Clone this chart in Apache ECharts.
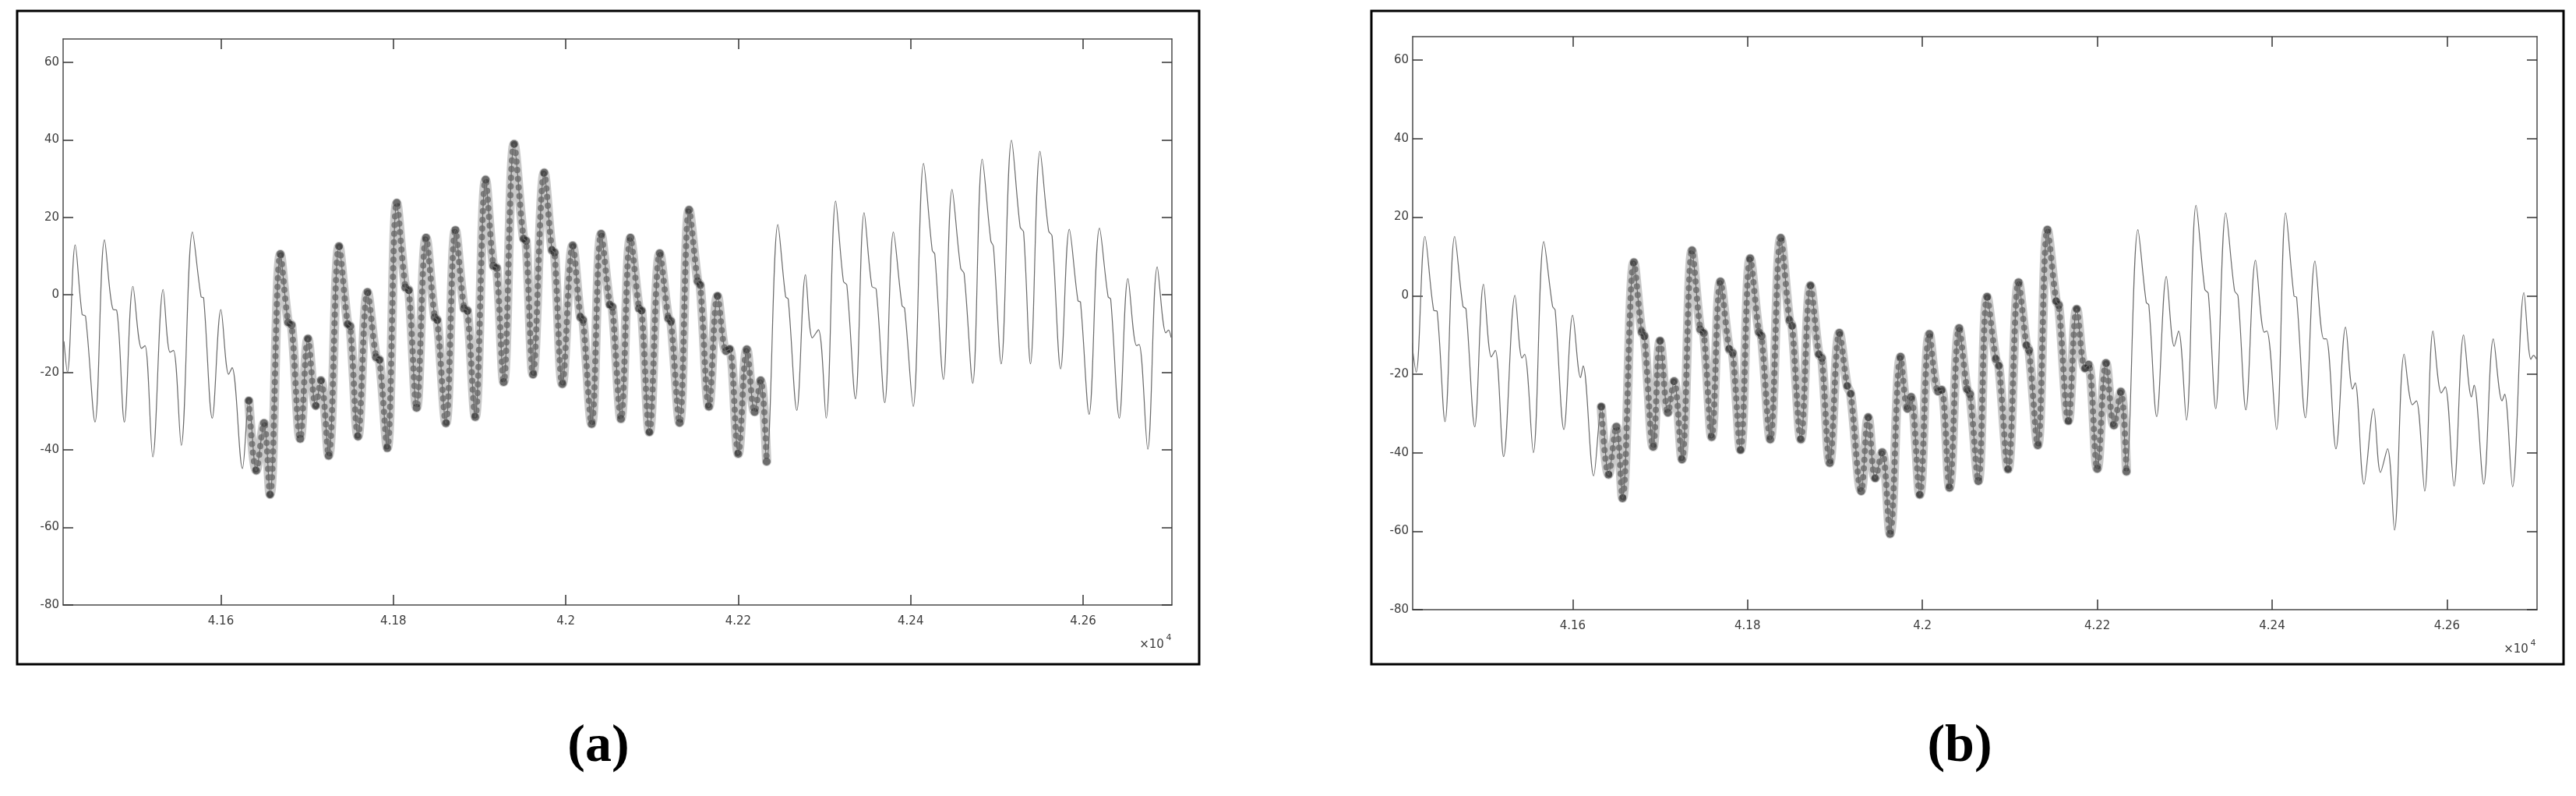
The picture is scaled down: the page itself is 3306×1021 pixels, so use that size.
<!DOCTYPE html>
<html><head><meta charset="utf-8">
<script src="https://cdn.jsdelivr.net/npm/echarts@6/dist/echarts.min.js"></script>
<style>html,body{margin:0;padding:0;background:#fff}#c{width:3306px;height:1021px}</style>
</head><body><div id="c"></div>
<script>
// ---- data ----
const xTicks = [41600, 41800, 42000, 42200, 42400, 42600];
const yTicks = [-80, -60, -40, -20, 0, 20, 40, 60];
const xRange = [41417, 42703];
const yRange = [-80, 66];
const hiRange = [41632, 42234];   // x-span of the marked segment
const panelLabels = ['(a)', '(b)'];
const expText = ['\u00d710', '4'];

// key points of signal (a): [x, value]
const sigA = [
 [41418,-12],[41422,-20],
 [41431,12.9],[41439,-5],[41443,-5.5],[41454,-32.8],
 [41465,14.2],[41475,-3.8],[41479,-3.9],[41488,-32.8],
 [41498,2.2],[41508,-13.8],[41512,-13.1],[41521,-41.8],
 [41533,1.4],[41541,-14.8],[41545,-14.3],[41554,-38.8],
 [41567,16.2],[41577,-0.5],[41580,-0.8],[41590,-31.8],
 [41600,-3.8],[41609,-20.5],[41613,-18.8],[41625,-44.8],
 [41632.4,-27.3],[41641,-45.3],[41650,-33.1],[41657,-51.5],
 [41669,10.5],[41678,-7.1],[41682,-7.8],[41692,-37.1],
 [41701,-11.3],[41710,-28.6],[41716,-22.1],[41725,-41.5],
 [41737,12.5],[41747,-7.5],[41750,-8.1],[41759,-36.5],
 [41770,0.7],[41780,-16.1],[41784,-16.8],[41793,-39.5],
 [41804,23.7],[41814,1.9],[41818,1.2],[41827,-29.1],
 [41838,14.7],[41848,-5.8],[41851,-6.5],[41861,-33.1],
 [41872,16.7],[41882,-3.5],[41886,-4.1],[41895,-31.5],
 [41907,29.7],[41916,7.5],[41920,6.9],[41928,-22.5],
 [41940,38.9],[41951,14.5],[41954,13.9],[41962,-20.5],
 [41975,31.5],[41984,11.5],[41987,10.9],[41996,-23],
 [42008,12.7],[42017,-5.8],[42020,-6.5],[42030,-33.3],
 [42041,15.7],[42051,-2.5],[42054,-3.1],[42064,-32],
 [42075,14.7],[42085,-3.5],[42088,-4.1],[42097,-35.4],
 [42109,10.7],[42119,-6.1],[42122,-6.8],[42132,-33],
 [42143,21.9],[42153,3.5],[42156,2.5],[42166,-28.8],
 [42176,-0.3],[42186,-14.5],[42190,-14],[42200,-41],
 [42210,-14.1],[42219,-30.2],[42226,-22.1],[42233,-43],
 [42246,18.1],[42255,-0.5],[42258,-1.1],[42268,-29.8],
 [42278,5.2],[42286,-11.1],[42293,-9],[42302,-31.8],
 [42313,24.2],[42322,3.5],[42326,2.5],[42336,-26.8],
 [42346,21.2],[42355,2.2],[42360,1.5],[42370,-27.8],
 [42380,16.2],[42390,-2.8],[42393,-3.5],[42403,-28.8],
 [42415,33.9],[42425,11.5],[42428,10.5],[42438,-21.8],
 [42448,27.2],[42458,6.9],[42462,5.5],[42472,-22.8],
 [42483,35],[42493,13.9],[42496,12.5],[42505,-17.8],
 [42517,39.9],[42527,17.5],[42531,16.2],[42539,-17.8],
 [42550,37],[42560,16.5],[42564,15.2],[42574,-19.1],
 [42584,16.9],[42594,-1.5],[42597,-1.9],[42607,-30.8],
 [42619,17.2],[42629,-0.5],[42632,-1.1],[42642,-31.8],
 [42652,4.2],[42662,-13.1],[42665,-12.8],[42675,-39.8],
 [42686,7.2],[42696,-9.8],[42699,-9.1],[42702,-11]
];

// key points of signal (b): [x, value]
const sigB = [
 [41416,-12],[41421,-19.5],
 [41431,15.1],[41441,-3.7],[41445,-4.0],[41454,-32.1],
 [41465,15.1],[41474.5,-2.7],[41478,-3.4],[41488,-33.4],
 [41498,2.9],[41507,-15.6],[41511.5,-13.9],[41521,-41.0],
 [41534,0.1],[41542,-15.9],[41545,-14.9],[41555,-40.0],
 [41567,13.8],[41577,-2.7],[41580,-3.7],[41590,-34.1],
 [41600,-5.0],[41609,-20.9],[41612,-17.9],[41624,-45.9],
 [41632.7,-28.3],[41641,-45.6],[41650,-33.4],[41657,-51.6],
 [41670,8.5],[41679,-9.3],[41682,-10.3],[41692,-38.5],
 [41700,-11.5],[41709,-29.8],[41716,-21.8],[41725,-41.7],
 [41736.5,11.5],[41746,-8.6],[41750,-9.6],[41759,-36.0],
 [41769,3.6],[41779,-13.6],[41783,-14.6],[41792,-39.3],
 [41803,9.5],[41813,-9.3],[41816,-10.3],[41826,-36.6],
 [41838,14.7],[41848,-6.3],[41851,-7.7],[41861,-36.6],
 [41872,2.6],[41881.5,-14.9],[41885,-15.9],[41894,-42.6],
 [41905,-9.5],[41914,-23],[41918,-25],[41930,-49.8],
 [41938,-31.0],[41946,-46.5],[41954,-39.9],[41963,-60.7],
 [41975,-15.6],[41983,-28.8],[41987,-25.8],[41997,-50.7],
 [42008,-9.8],[42018,-24.4],[42022,-24.0],[42031,-48.9],
 [42042,-8.3],[42051,-23.8],[42054.5,-25.1],[42064,-47.2],
 [42074,-0.3],[42084,-16.2],[42087.5,-17.9],[42098,-44.2],
 [42110,3.4],[42119,-12.6],[42122,-13.9],[42132,-38.1],
 [42143,16.8],[42153,-1.4],[42156,-2.4],[42167,-31.9],
 [42176.5,-3.4],[42186,-18.5],[42190,-17.6],[42200,-44.1],
 [42210,-17.2],[42219,-33.0],[42227,-24.5],[42233.4,-44.8],
 [42246.5,16.8],[42256,-1.7],[42259,-2.4],[42268,-30.8],
 [42279,4.9],[42288,-12.9],[42293,-9.0],[42302,-31.7],
 [42313,23.0],[42323,1.6],[42327,0.6],[42335.5,-28.8],
 [42347,21.1],[42357,1.3],[42361,-0.1],[42370,-29.1],
 [42381,9.0],[42391,-9.3],[42394,-9.0],[42405,-34.1],
 [42415.5,21.1],[42425,-0.1],[42428,-0.4],[42438,-31.1],
 [42449,8.8],[42459,-11.0],[42462,-11.0],[42473,-39.0],
 [42484,-8.0],[42492,-23.8],[42495,-22.2],[42505,-48.0],
 [42516,-28.8],[42524,-45.0],[42532,-39.0],[42540,-59.7],
 [42551,-14.9],[42560.5,-27.8],[42565,-26.8],[42574.5,-49.8],
 [42584,-9.0],[42593.5,-24.8],[42598,-23.2],[42608,-48.5],
 [42619,-10.0],[42628,-25.8],[42631,-22.8],[42642,-48.0],
 [42653,-11.0],[42663,-26.8],[42666,-25.1],[42675,-48.7],
 [42688,0.8],[42696,-16.2],[42699,-15.2],[42702.5,-16.2]
];

// ---- layout ----
const grids = [
  {left: 81, top: 50, width: 1423, height: 726},
  {left: 1813, top: 47, width: 1443, height: 735}
];
const frames = [
  {x: 22, y: 14, width: 1517, height: 838},
  {x: 1760, y: 14, width: 1530, height: 838}
];
const labelPos = [[768, 958], [2515, 958]];
const expPos = [[1478, 827, 1500, 818], [3229, 833, 3251, 825]];

const axisColor = '#4a4a4a';
const textColor = '#3c3c3c';
const fontFam = '"DejaVu Sans", sans-serif';

const xAxis = [], yAxis = [], series = [];
grids.forEach((g, gi) => {
  ['bottom', 'top'].forEach(pos => {
    xAxis.push({
      type: 'value', gridIndex: gi, position: pos, min: xRange[0], max: xRange[1],
      axisLine: {show: true, onZero: false, lineStyle: {color: axisColor, width: 1.5}},
      axisTick: {show: true, inside: true, length: 13, customValues: xTicks, lineStyle: {color: '#333', width: 1.5}},
      axisLabel: {show: pos === 'bottom', customValues: xTicks, margin: 14, color: textColor,
        fontSize: 15, fontFamily: fontFam,
        formatter: v => String(+(v / 1e4).toFixed(4))},
      splitLine: {show: false}
    });
  });
  ['left', 'right'].forEach(pos => {
    yAxis.push({
      type: 'value', gridIndex: gi, position: pos, min: yRange[0], max: yRange[1],
      axisLine: {show: true, onZero: false, lineStyle: {color: axisColor, width: 1.5}},
      axisTick: {show: true, inside: true, length: 13, customValues: yTicks, lineStyle: {color: '#333', width: 1.5}},
      axisLabel: {show: pos === 'left', customValues: yTicks, margin: 5, color: textColor,
        fontSize: 15, fontFamily: fontFam},
      splitLine: {show: false}
    });
  });
  const sig = gi === 0 ? sigA : sigB;
  const hi = sig.filter(p => p[0] >= hiRange[0] && p[0] <= hiRange[1]);
  const ax = gi * 2;
  series.push({
    type: 'line', xAxisIndex: ax, yAxisIndex: ax, data: hi, smooth: 0.35, symbol: 'none',
    lineStyle: {color: 'rgba(125,125,125,0.42)', width: 12, cap: 'round', join: 'round'},
    z: 2, silent: true
  });
  series.push({
    type: 'line', xAxisIndex: ax, yAxisIndex: ax, data: hi, smooth: 0.35,
    symbol: 'circle', symbolSize: 10, showAllSymbol: true,
    itemStyle: {color: 'rgba(35,35,35,0.55)', borderWidth: 0},
    lineStyle: {color: 'rgba(50,50,50,0.5)', width: 8, type: [0.1, 11], cap: 'round'},
    z: 3, silent: true
  });
  series.push({
    type: 'line', xAxisIndex: ax, yAxisIndex: ax, data: sig, smooth: 0.35, symbol: 'none',
    lineStyle: {color: '#6a6a6a', width: 1.2}, z: 4, silent: true
  });
});

const graphic = [];
frames.forEach(f => graphic.push({
  type: 'rect', shape: f, style: {fill: 'transparent', stroke: '#000', lineWidth: 3}, silent: true
}));
labelPos.forEach((p, i) => graphic.push({
  type: 'text', x: p[0], y: p[1],
  style: {text: panelLabels[i], fontSize: 68, fontWeight: 'bold', fontFamily: '"Liberation Serif", serif',
    fill: '#000', align: 'center', verticalAlign: 'middle'}
}));
expPos.forEach(p => {
  graphic.push({type: 'text', x: p[0], y: p[1],
    style: {text: expText[0], fontSize: 15, fontFamily: fontFam, fill: textColor, align: 'center', verticalAlign: 'middle'}});
  graphic.push({type: 'text', x: p[2], y: p[3],
    style: {text: expText[1], fontSize: 11, fontFamily: fontFam, fill: textColor, align: 'center', verticalAlign: 'middle'}});
});

const chart = echarts.init(document.getElementById('c'));
chart.setOption({
  animation: false,
  backgroundColor: '#fff',
  grid: grids.map(g => Object.assign({containLabel: false}, g)),
  xAxis, yAxis, series, graphic
});
</script></body></html>
